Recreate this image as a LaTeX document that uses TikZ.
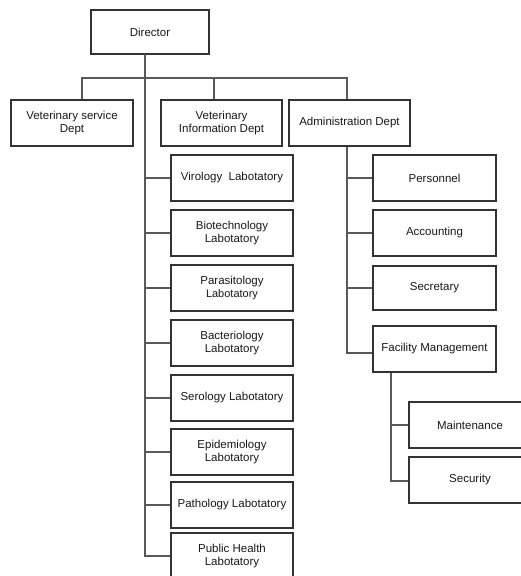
\documentclass[tikz,border=0pt]{standalone}
\usepackage{fontspec}
\setmainfont{Liberation Sans}
\begin{document}
\begin{tikzpicture}[x=1pt,y=-1pt,
  box/.style={draw=black!80, line width=1.1pt, fill=white, align=center,
    inner sep=1pt, minimum height=46pt, text=black!90,
    font=\fontsize{11.5}{13.5}\selectfont},
  link/.style={draw=black!65, line width=1.1pt}]
\useasboundingbox (0,0) rectangle (520,576);
% top
\node[box, minimum width=118pt, minimum height=44pt] (dir) at (150,32) {Director};
\node[box, minimum width=122pt] (vs) at (72,123) {Veterinary service\\Dept};
\node[box, minimum width=121pt] (vi) at (221.5,123) {Veterinary\\Information Dept};
\node[box, minimum width=121pt] (adm) at (349.5,123) {Administration Dept};
% labs
\node[box, minimum width=122pt] (l1) at (232,178) {Virology~~Labotatory};
\node[box, minimum width=122pt] (l2) at (232,233) {Biotechnology\\Labotatory};
\node[box, minimum width=122pt] (l3) at (232,288) {Parasitology\\{\fontsize{11}{12.5}\selectfont Labotatory}};
\node[box, minimum width=122pt] (l4) at (232,343) {Bacteriology\\Labotatory};
\node[box, minimum width=122pt] (l5) at (232,398) {Serology Labotatory};
\node[box, minimum width=122pt] (l6) at (232,452) {Epidemiology\\Labotatory};
\node[box, minimum width=122pt] (l7) at (232,505) {Pathology Labotatory};
\node[box, minimum width=122pt] (l8) at (232,556) {Public Health\\Labotatory};
% admin children
\node[box, minimum width=123pt] (a1) at (434.5,178) {Personnel};
\node[box, minimum width=123pt] (a2) at (434.5,233) {Accounting};
\node[box, minimum width=123pt, minimum height=44pt] (a3) at (434.5,288) {Secretary};
\node[box, minimum width=123pt] (a4) at (434.5,349) {Facility Management};
\node[box, minimum width=122pt] (f1) at (470,425) {Maintenance};
\node[box, minimum width=122pt] (f2) at (470,480) {Security};
% coordinates
\coordinate (ds) at (145,54);
\coordinate (b1) at (82,78);
\coordinate (b2) at (214,78);
\coordinate (b3) at (347,78);
\coordinate (sp) at (145,556);
% connectors
\draw[link] (ds) -- (sp) -- (l8.west);
\draw[link] (vs.north -| b1) -- (b1) -- (b3) -- (adm.north -| b3);
\draw[link] (b2) -- (vi.north -| b2);
\foreach \n in {l1,l2,l3,l4,l5,l6,l7} \draw[link] (ds |- \n.west) -- (\n.west);
\coordinate (as) at (347,353);
\draw[link] (adm.south -| as) -- (as) -- (a4.west |- as);
\foreach \n in {a1,a2,a3} \draw[link] (as |- \n.west) -- (\n.west);
\coordinate (fs) at (391,481);
\draw[link] (a4.south -| fs) -- (fs) -- (f2.west |- fs);
\draw[link] (fs |- f1.west) -- (f1.west);
\end{tikzpicture}
\end{document}
